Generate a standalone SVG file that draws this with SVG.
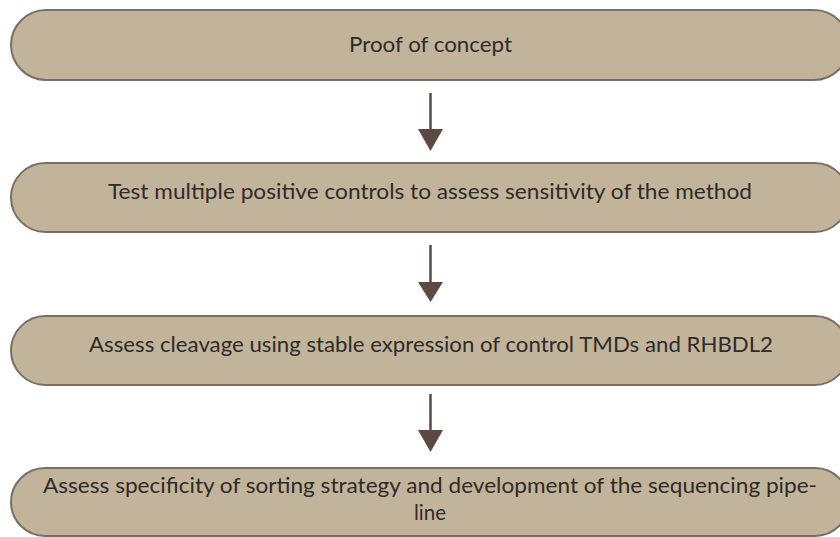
<svg xmlns="http://www.w3.org/2000/svg" width="840" height="537" viewBox="0 0 840 537">
<style>
.box{fill:#c2b49b;stroke:#7b6e64;stroke-width:2}
.t{font-family:Lato,"Open Sans","Liberation Sans",sans-serif;font-size:21px;fill:#2f2b28;text-anchor:middle}
.ar{stroke:#5b4a41;stroke-width:2.5;fill:none}
.hd{fill:#5b4a41}
</style>
<rect width="840" height="537" fill="#ffffff"/>
<g id="n1">
<rect class="box" x="11" y="10" width="838" height="70" rx="35" ry="35"/>
<text class="t" x="430.5" y="52" textLength="163" lengthAdjust="spacingAndGlyphs">Proof of concept</text>
</g>
<g id="n2">
<rect class="box" x="11" y="163" width="838" height="69" rx="34.5" ry="34.5"/>
<text class="t" x="430" y="199" textLength="644" lengthAdjust="spacingAndGlyphs">Test multiple positive controls to assess sensitivity of the method</text>
</g>
<g id="n3">
<rect class="box" x="11" y="316" width="838" height="69" rx="34.5" ry="34.5"/>
<text class="t" x="431" y="352" textLength="684" lengthAdjust="spacingAndGlyphs">Assess cleavage using stable expression of control TMDs and RHBDL2</text>
</g>
<g id="n4">
<rect class="box" x="11" y="468" width="838" height="68" rx="34" ry="34"/>
<text class="t" x="430" y="493" textLength="774" lengthAdjust="spacingAndGlyphs">Assess specificity of sorting strategy and development of the sequencing pipe-</text>
<text class="t" x="430" y="520" textLength="32" lengthAdjust="spacingAndGlyphs">line</text>
</g>
<g id="connectors">
<line class="ar" x1="430.5" y1="93" x2="430.5" y2="131"/>
<polygon class="hd" points="418,129 443,129 430.5,151"/>
<line class="ar" x1="430.5" y1="245" x2="430.5" y2="284"/>
<polygon class="hd" points="418,282 443,282 430.5,302"/>
<line class="ar" x1="430.5" y1="394" x2="430.5" y2="432"/>
<polygon class="hd" points="418,430 443,430 430.5,452"/>
</g>
</svg>
